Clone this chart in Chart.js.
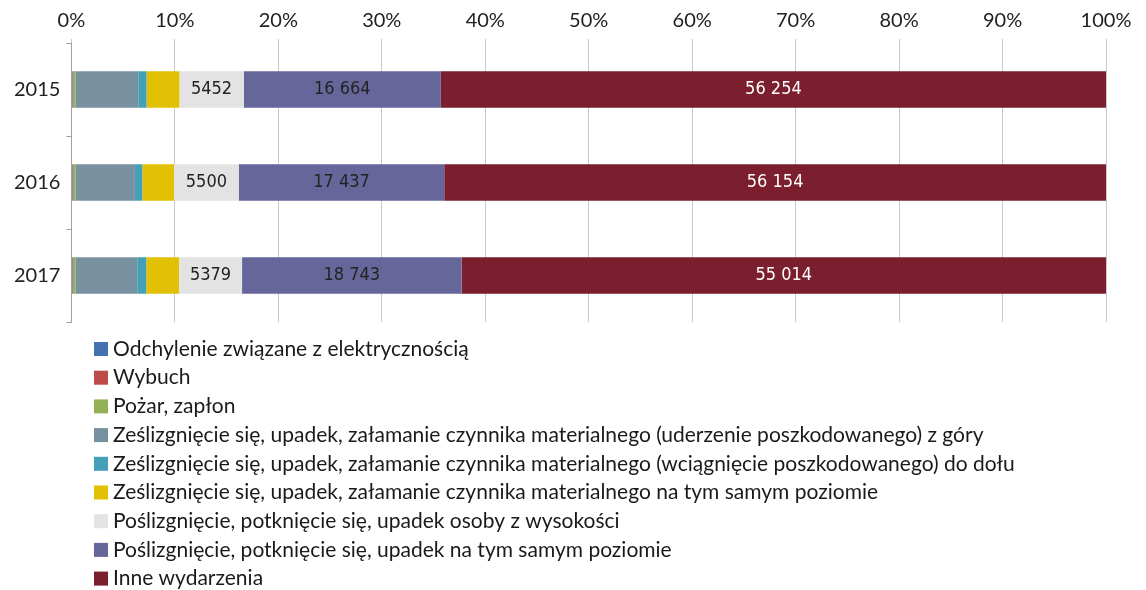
<!DOCTYPE html>
<html><head><meta charset="utf-8">
<script src="https://cdn.jsdelivr.net/npm/chart.js@4.4.1/dist/chart.umd.min.js"></script>
<style>html,body{margin:0;padding:0;background:#fff}#wrap{width:1146px;height:590px}</style>
</head><body><div id="wrap"><canvas id="c" width="1146" height="590"></canvas></div>
<script>
const years = ['2015', '2016', '2017'];
const seriesNames = [
  'Odchylenie związane z elektrycznością',
  'Wybuch',
  'Pożar, zapłon',
  'Ześlizgnięcie się, upadek, załamanie czynnika materialnego (uderzenie poszkodowanego) z góry',
  'Ześlizgnięcie się, upadek, załamanie czynnika materialnego (wciągnięcie poszkodowanego) do dołu',
  'Ześlizgnięcie się, upadek, załamanie czynnika materialnego na tym samym poziomie',
  'Poślizgnięcie, potknięcie się, upadek osoby z wysokości',
  'Poślizgnięcie, potknięcie się, upadek na tym samym poziomie',
  'Inne wydarzenia'
];
const elektrycznosc = [90, 85, 90];
const wybuch = [60, 55, 55];
const pozar = [190, 200, 200];
const zGory = [5317, 5050, 5275];
const doDolu = [700, 625, 770];
const tenSamPoziomMat = [2770, 2690, 2800];
const zWysokosci = [5452, 5500, 5379];
const tenSamPoziom = [16664, 17437, 18743];
const inne = [56254, 56154, 55014];
const tickLabels = ['0%','10%','20%','30%','40%','50%','60%','70%','80%','90%','100%'];

const colors = ['#4471B0','#BE4B48','#92B154','#7791A0','#44A0B9','#E2C105','#E3E3E3','#67669B','#7B1E2E'];
const labelled = [false,false,false,false,false,false,true,true,true];
const labelColors = ['#222','#222','#222','#222','#222','#222','#222','#222','#ffffff'];

const raw = [elektrycznosc, wybuch, pozar, zGory, doDolu, tenSamPoziomMat, zWysokosci, tenSamPoziom, inne];
const totals = years.map((_, i) => raw.reduce((s, a) => s + a[i], 0));

function fmt(v) {
  const s = String(v);
  if (v < 10000) return s;
  return s.replace(/\B(?=(\d{3})+(?!\d))/g, ' ');
}

const datasets = raw.map((arr, k) => ({
  label: seriesNames[k],
  data: arr.map((v, i) => v / totals[i] * 100),
  rawValues: arr,
  backgroundColor: colors[k],
  borderWidth: 0,
  barPercentage: 0.39,
  categoryPercentage: 1,
  showLabel: labelled[k],
  labelColor: labelColors[k]
}));

const labelPlugin = {
  id: 'segLabels',
  afterDatasetsDraw(chart) {
    const ctx = chart.ctx;
    ctx.save();
    ctx.font = '18px "Liberation Sans Narrow", "DejaVu Sans Condensed", sans-serif';
    ctx.textAlign = 'center';
    ctx.textBaseline = 'middle';
    chart.data.datasets.forEach((ds, k) => {
      if (!ds.showLabel) return;
      chart.getDatasetMeta(k).data.forEach((bar, i) => {
        const cx = (bar.x + bar.base) / 2;
        ctx.fillStyle = ds.labelColor;
        ctx.fillText(fmt(ds.rawValues[i]), cx, bar.y);
      });
    });
    ctx.restore();
  }
};

const legendPlugin = {
  id: 'listLegend',
  afterDraw(chart) {
    const ctx = chart.ctx;
    ctx.save();
    ctx.font = '21px Lato, sans-serif';
    ctx.textBaseline = 'middle';
    ctx.textAlign = 'left';
    chart.data.datasets.forEach((ds, k) => {
      const y = 349 + k * 28.7;
      ctx.fillStyle = ds.backgroundColor;
      ctx.fillRect(94, y - 7, 14, 14);
      ctx.fillStyle = '#1a1a1a';
      ctx.fillText(ds.label, 113, y);
    });
    ctx.restore();
  }
};

new Chart(document.getElementById('c'), {
  type: 'bar',
  data: { labels: years, datasets },
  options: {
    indexAxis: 'y',
    responsive: false,
    animation: false,
    layout: { padding: { left: 8, right: 40, top: 3, bottom: 268 } },
    plugins: { legend: { display: false }, tooltip: { enabled: false } },
    scales: {
      x: {
        position: 'top',
        stacked: true,
        min: 0, max: 100,
        ticks: {
          stepSize: 10,
          color: '#222',
          font: { family: 'Lato', size: 20 },
          padding: 6,
          callback: (v, i) => tickLabels[i]
        },
        grid: { color: '#C8C8C8', tickLength: 4, drawTicks: true },
        border: { display: false }
      },
      y: {
        stacked: true,
        ticks: { color: '#222', font: { family: 'Lato', size: 20 }, padding: 6 },
        grid: { offset: true, drawOnChartArea: false, color: '#A0A0A0', tickLength: 5 },
        border: { display: true, color: '#A0A0A0' }
      }
    }
  },
  plugins: [labelPlugin, legendPlugin]
});
</script></body></html>
